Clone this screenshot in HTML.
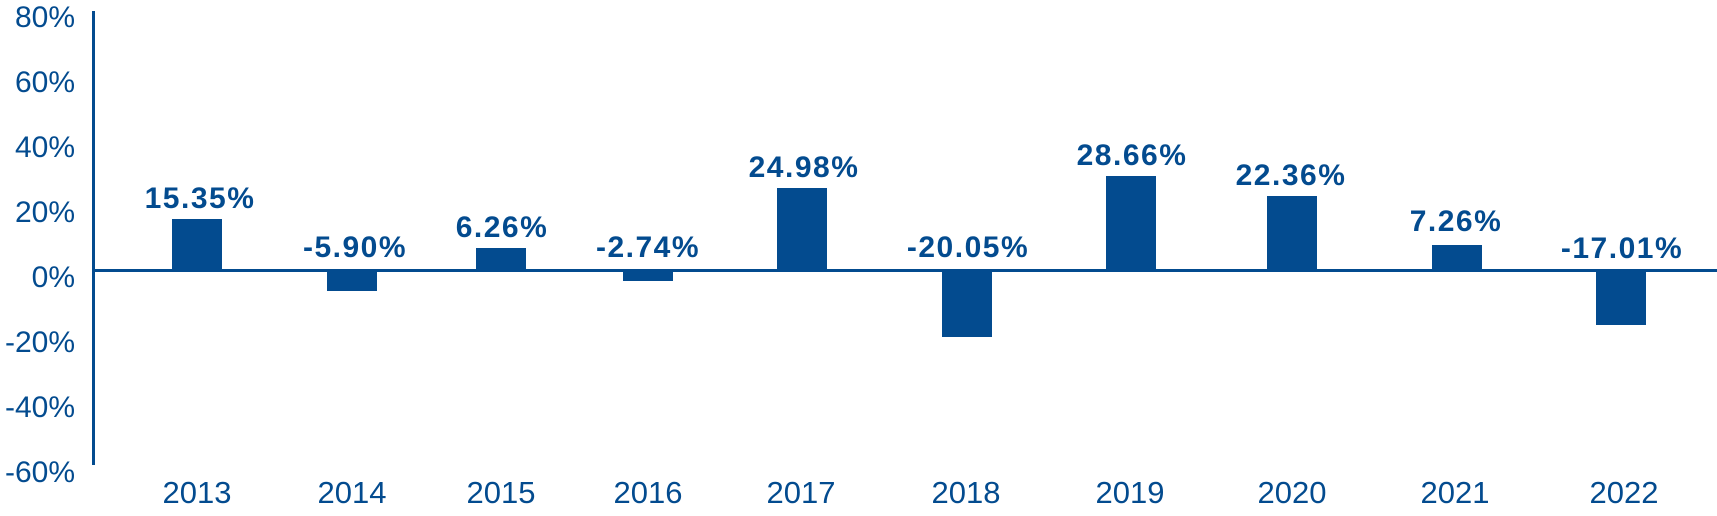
<!DOCTYPE html>
<html><head><meta charset="utf-8"><style>
html,body{margin:0;padding:0;background:#fff;}
svg text{font-family:"Liberation Sans",Arial,sans-serif;fill:#034b8f;}
</style></head><body>
<svg width="1717" height="511" viewBox="0 0 1717 511" xmlns="http://www.w3.org/2000/svg">
<g font-size="30" text-anchor="end">
<text x="75" y="27">80%</text>
<text x="75" y="92">60%</text>
<text x="75" y="157">40%</text>
<text x="75" y="222">20%</text>
<text x="75" y="287">0%</text>
<text x="75" y="352">-20%</text>
<text x="75" y="417">-40%</text>
<text x="75" y="482">-60%</text>
</g>
<rect x="92" y="11" width="3" height="454" fill="#034b8f"/>
<rect x="92" y="269" width="1625" height="3" fill="#034b8f"/>
<g fill="#034b8f">
<rect x="172" y="219" width="50" height="51"/>
<rect x="327" y="270" width="50" height="21"/>
<rect x="476" y="248" width="50" height="22"/>
<rect x="623" y="270" width="50" height="11"/>
<rect x="777" y="188" width="50" height="82"/>
<rect x="942" y="270" width="50" height="67"/>
<rect x="1106" y="176" width="50" height="94"/>
<rect x="1267" y="196" width="50" height="74"/>
<rect x="1432" y="245" width="50" height="25"/>
<rect x="1596" y="270" width="50" height="55"/>
</g>
<g font-size="30" font-weight="bold" text-anchor="middle" letter-spacing="1.5">
<text x="200" y="208">15.35%</text>
<text x="355" y="257">-5.90%</text>
<text x="502" y="237">6.26%</text>
<text x="648" y="257">-2.74%</text>
<text x="804" y="177">24.98%</text>
<text x="968" y="257">-20.05%</text>
<text x="1132" y="165">28.66%</text>
<text x="1291" y="185">22.36%</text>
<text x="1456" y="231">7.26%</text>
<text x="1622" y="258">-17.01%</text>
</g>
<g font-size="31" text-anchor="middle">
<text x="197" y="503">2013</text>
<text x="352" y="503">2014</text>
<text x="501" y="503">2015</text>
<text x="648" y="503">2016</text>
<text x="801" y="503">2017</text>
<text x="966" y="503">2018</text>
<text x="1130" y="503">2019</text>
<text x="1292" y="503">2020</text>
<text x="1455" y="503">2021</text>
<text x="1624" y="503">2022</text>
</g>
</svg>
</body></html>
